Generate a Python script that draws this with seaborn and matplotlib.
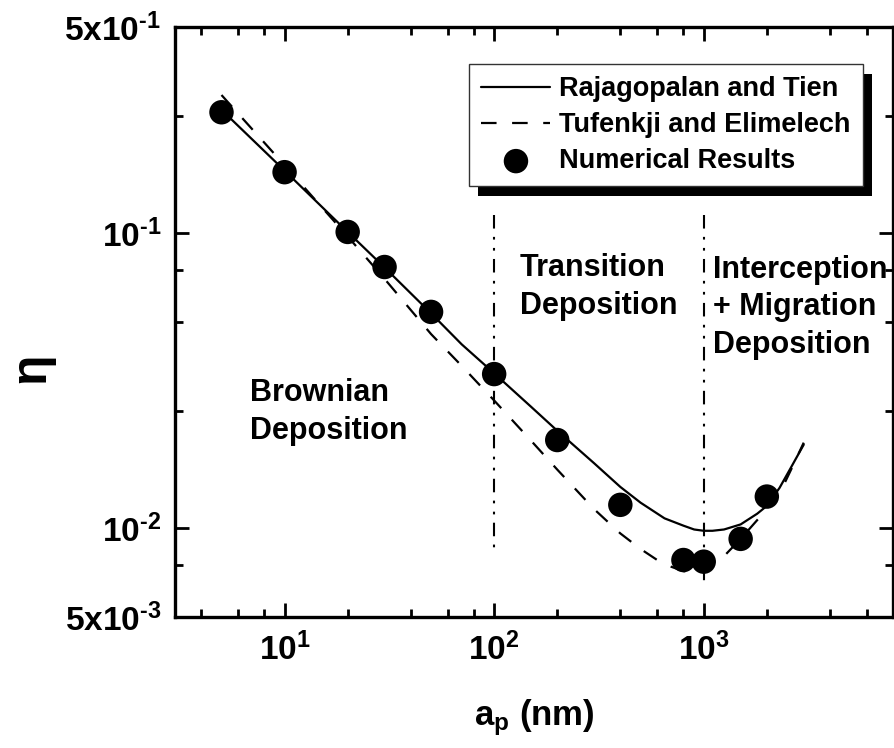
import numpy as np
import pandas as pd
import matplotlib
matplotlib.use("Agg")
import matplotlib.pyplot as plt
import seaborn as sns
from matplotlib.patches import Rectangle
from matplotlib.ticker import FixedLocator, FixedFormatter, NullFormatter

# ---- data ----
x_rt = [5, 10, 20, 30, 50, 70, 100, 150, 200, 300, 400, 500, 650, 800, 900, 1000,
        1100, 1250, 1500, 1800, 2000, 2300, 2600, 3000]
y_rt = [0.262, 0.163, 0.101, 0.0765, 0.0535, 0.0420, 0.0335, 0.0258, 0.0214,
        0.0166, 0.0138, 0.0122, 0.0108, 0.0102, 0.0099, 0.0098, 0.0098, 0.0099,
        0.0103, 0.0112, 0.0119, 0.0137, 0.0160, 0.0192]

x_te = [5, 10, 20, 30, 50, 70, 100, 150, 200, 300, 400, 500, 600, 700, 800, 900,
        1000, 1200, 1500, 2000, 2300, 2600, 3000]
y_te = [0.294, 0.170, 0.0975, 0.070, 0.0455, 0.0355, 0.0271, 0.0198, 0.0158,
        0.0116, 0.0096, 0.0085, 0.0078, 0.0074, 0.00715, 0.0071, 0.0072, 0.0078,
        0.0092, 0.0116, 0.0131, 0.0157, 0.0195]

x_num = [5, 10, 20, 30, 50, 100, 200, 400, 800, 1000, 1500, 2000]
y_num = [0.257, 0.161, 0.101, 0.0768, 0.0541, 0.0333, 0.0199, 0.0120, 0.0078,
         0.0077, 0.0092, 0.0128]

boundary_x = [100, 1000]
boundary_top = [0.115, 0.115]
boundary_bottom = [0.0082, 0.0064]

series_labels = ["Rajagopalan and Tien", "Tufenkji and Elimelech", "Numerical Results"]
region_labels = ["Brownian\nDeposition", "Transition\nDeposition",
                 "Interception\n+ Migration\nDeposition"]

x_major = [10, 100, 1000]
x_major_labels = [r"$\mathbf{10^{1}}$", r"$\mathbf{10^{2}}$", r"$\mathbf{10^{3}}$"]
x_minor = [4, 6, 8, 20, 40, 60, 80, 200, 400, 600, 800, 2000, 4000, 6000]
y_major = [0.005, 0.01, 0.1, 0.5]
y_major_labels = [r"$\mathbf{5x10^{\text{-}3}}$", r"$\mathbf{10^{\text{-}2}}$",
                  r"$\mathbf{10^{\text{-}1}}$", r"$\mathbf{5x10^{\text{-}1}}$"]
y_minor = [0.0075, 0.025, 0.05, 0.075, 0.25]

# ---- style ----
sns.set_style("ticks")
plt.rcParams["font.family"] = ["Liberation Sans", "DejaVu Sans"]
plt.rcParams["font.weight"] = "bold"
plt.rcParams["text.color"] = "black"
plt.rcParams["axes.labelcolor"] = "black"
plt.rcParams["xtick.color"] = "black"
plt.rcParams["ytick.color"] = "black"
plt.rcParams["axes.edgecolor"] = "black"
plt.rcParams["mathtext.fontset"] = "custom"
plt.rcParams["mathtext.rm"] = "Liberation Sans:bold"
plt.rcParams["mathtext.bf"] = "Liberation Sans:bold"
plt.rcParams["mathtext.it"] = "Liberation Sans:bold:italic"
plt.rcParams["mathtext.sf"] = "Liberation Sans:bold"

W, H = 895, 748
fig = plt.figure(figsize=(W / 100, H / 100), dpi=100)
L, R, T, B = 175, 893, 27, 617
ax = fig.add_axes([L / W, 1 - B / H, (R - L) / W, (B - T) / H])
ax.set_xscale("log")
ax.set_yscale("log")

df_rt = pd.DataFrame({"x": x_rt, "y": y_rt})
df_te = pd.DataFrame({"x": x_te, "y": y_te})
df_num = pd.DataFrame({"x": x_num, "y": y_num})

sns.lineplot(data=df_rt, x="x", y="y", ax=ax, color="black", lw=1.6,
             label=series_labels[0], estimator=None, sort=False)
sns.lineplot(data=df_te, x="x", y="y", ax=ax, color="black", lw=1.6,
             linestyle=(0, (7, 7)), label=series_labels[1], estimator=None, sort=False)
sns.scatterplot(data=df_num, x="x", y="y", ax=ax, color="black", s=310,
                edgecolor="none", linewidth=0, label=series_labels[2], zorder=3)

for bx, bt, bb in zip(boundary_x, boundary_top, boundary_bottom):
    ax.plot([bx, bx], [bt, bb], color="black", lw=1.5,
            linestyle=(0, (6.5, 4, 1.3, 4, 1.3, 4)))

ax.set_xlim(3, 8000)
ax.set_ylim(0.005, 0.5)

ax.xaxis.set_major_locator(FixedLocator(x_major))
ax.xaxis.set_major_formatter(FixedFormatter(x_major_labels))
ax.xaxis.set_minor_locator(FixedLocator(x_minor))
ax.xaxis.set_minor_formatter(NullFormatter())
ax.yaxis.set_major_locator(FixedLocator(y_major))
ax.yaxis.set_major_formatter(FixedFormatter(y_major_labels))
ax.yaxis.set_minor_locator(FixedLocator(y_minor))
ax.yaxis.set_minor_formatter(NullFormatter())

ax.tick_params(which="both", direction="in", top=True, right=True, width=2,
               color="black", labelcolor="black")
ax.tick_params(which="major", length=10, labelsize=24)
ax.tick_params(axis="x", which="major", pad=11)
ax.tick_params(axis="y", which="major", pad=10)
ax.tick_params(which="minor", length=6)
for sp in ax.spines.values():
    sp.set_linewidth(2.4)
    sp.set_color("black")
    sp.set_visible(True)

ax.set_xlabel(r"$\mathbf{a_p}$ (nm)", fontsize=25, fontweight="bold", labelpad=22)
ax.set_ylabel("η", fontsize=36, fontweight="bold")


def fx(px):
    return (px - L) / (R - L)


def fy(py):
    return (B - py) / (B - T)


ax.yaxis.set_label_coords(fx(54), fy(368))

# region texts (va=baseline anchors the last line)
ax.text(fx(250), fy(439), region_labels[0], transform=ax.transAxes, fontsize=22,
        fontweight="bold", va="baseline", ha="left", linespacing=1.33, color="black")
ax.text(fx(520), fy(314), region_labels[1], transform=ax.transAxes, fontsize=22,
        fontweight="bold", va="baseline", ha="left", linespacing=1.33, color="black")
ax.text(fx(713), fy(353), region_labels[2], transform=ax.transAxes, fontsize=22,
        fontweight="bold", va="baseline", ha="left", linespacing=1.33, color="black",
        clip_on=False)

# legend
handles, labels = ax.get_legend_handles_labels()
leg = ax.legend(handles, labels, loc="upper right",
                bbox_to_anchor=(fx(863), fy(64)), borderaxespad=0,
                fontsize=19.5, frameon=True, fancybox=False, edgecolor="#333333",
                framealpha=1, handlelength=2.55, handletextpad=0.33,
                borderpad=0.45, labelspacing=0.37)
leg.get_frame().set_linewidth(1.0)
for t in leg.get_texts():
    t.set_fontweight("bold")
    t.set_color("black")

fig.canvas.draw()
bb = leg.get_frame().get_window_extent(fig.canvas.get_renderer())
inv = fig.transFigure.inverted()
(x0, y0) = inv.transform((bb.x0 + 9, bb.y0 - 10))
(x1, y1) = inv.transform((bb.x1 + 9, bb.y1 - 10))
ax.add_patch(Rectangle((x0, y0), x1 - x0, y1 - y0, transform=fig.transFigure,
                       facecolor="black", edgecolor="none", zorder=4.9,
                       clip_on=False))

fig.savefig("out.png", dpi=100)
